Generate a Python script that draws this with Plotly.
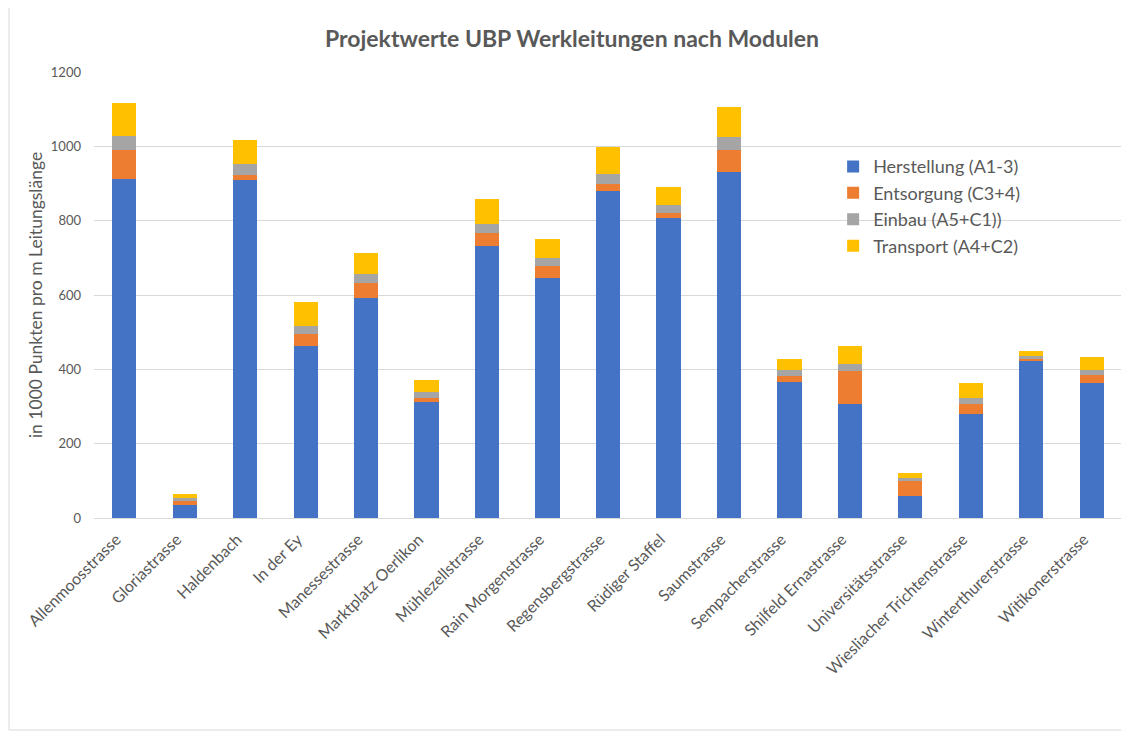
import plotly.graph_objects as go

strassen = ["Allenmoosstrasse", "Gloriastrasse", "Haldenbach", "In der Ey", "Manessestrasse",
            "Marktplatz Oerlikon", "Mühlezellstrasse", "Rain Morgenstrasse", "Regensbergstrasse",
            "Rüdiger Staffel", "Saumstrasse", "Sempacherstrasse", "Shilfeld Ernastrasse",
            "Universitätsstrasse", "Wiesliacher Trichtenstrasse", "Winterthurerstrasse",
            "Witikonerstrasse"]

herstellung = [913, 36, 909, 463, 593, 312, 731, 647, 880, 808, 932, 365, 308, 59, 280, 425, 364]
entsorgung = [78, 9, 13, 33, 40, 12, 35, 30, 20, 13, 57, 18, 87, 40, 28, 4, 20]
einbau = [38, 8, 30, 20, 23, 14, 26, 22, 26, 20, 35, 14, 19, 9, 16, 7, 14]
transport = [88, 11, 65, 66, 56, 33, 67, 53, 72, 50, 83, 31, 49, 12, 38, 12, 34]

serien = [
    ("Herstellung (A1-3)", herstellung, "#4472C4"),
    ("Entsorgung (C3+4)", entsorgung, "#ED7D31"),
    ("Einbau (A5+C1))", einbau, "#A5A5A5"),
    ("Transport (A4+C2)", transport, "#FFC000"),
]

grau = "#595959"
schrift = "Lato, Carlito, 'Open Sans', sans-serif"

fig = go.Figure()
for name, werte, farbe in serien:
    fig.add_trace(go.Bar(x=strassen, y=werte, name=name,
                         marker=dict(color=farbe, line=dict(width=0))))

# die Seite hat 8px Rand, darum etwas kleiner
fig.update_layout(
    barmode="stack",
    bargap=0.6,
    width=1121, height=727,
    margin=dict(l=86, r=7, t=64, b=217),
    paper_bgcolor="white",
    plot_bgcolor="white",
    font=dict(family=schrift, color=grau),
    title=dict(text="<b>Projektwerte UBP Werkleitungen nach Modulen</b>",
               x=0.465, xref="paper", xanchor="center", y=0.957, yanchor="middle",
               font=dict(size=23, color=grau, family=schrift)),
    legend=dict(x=0.719, y=0.829, xanchor="left", yanchor="top",
                traceorder="normal", bgcolor="rgba(0,0,0,0)",
                font=dict(size=18, color=grau), itemwidth=30),
    showlegend=True,
)

fig.update_xaxes(tickangle=-45, tickfont=dict(size=16, color=grau),
                 showline=True, linecolor="#D9D9D9", linewidth=1,
                 showgrid=False, ticks="", ticklabelshift=-8, ticklabelstandoff=5)
fig.update_yaxes(range=[0, 1200], dtick=200, tickfont=dict(size=13, color=grau),
                 gridcolor="#D9D9D9", gridwidth=1, zeroline=False,
                 title=dict(text="in 1000 Punkten pro m Leitungslänge",
                            font=dict(size=17.5, color=grau), standoff=3),
                 ticks="", ticklabelstandoff=12)

# duenner Rahmen um das ganze Diagramm
fig.add_shape(type="rect", xref="paper", yref="paper",
              x0=-85 / 1028, x1=1124 / 1028, y0=-212 / 446, y1=(446 + 70) / 446,
              line=dict(color="#D9D9D9", width=1), fillcolor="rgba(0,0,0,0)")

fig.write_html("out.html")
